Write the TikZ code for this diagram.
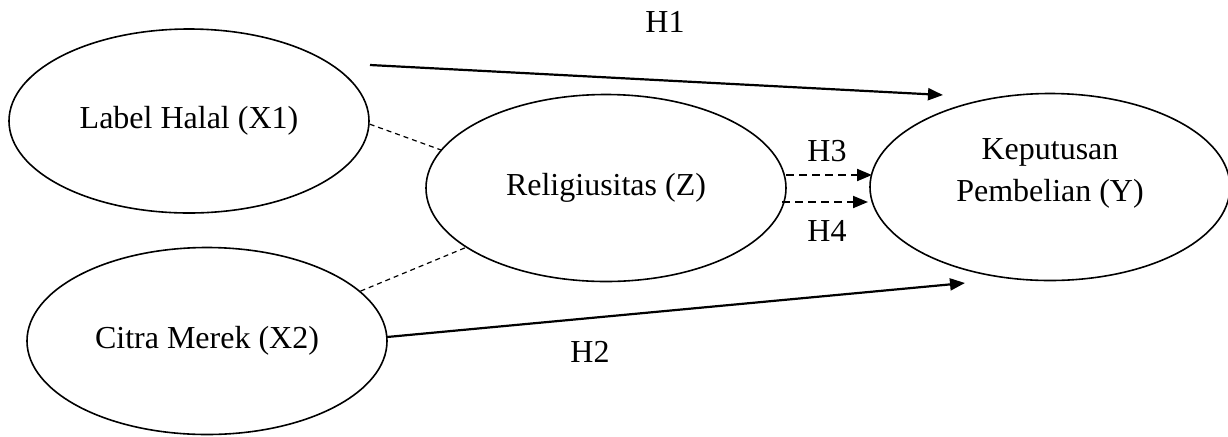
\documentclass[tikz,border=0pt]{standalone}
\usepackage{fontspec}
\setmainfont{Liberation Serif}
\usetikzlibrary{positioning, shapes.geometric, arrows.meta}

\begin{document}
\begin{tikzpicture}[x=0.5pt, y=-0.5pt, font=\fontsize{16}{21}\selectfont,
        var/.style={draw, ellipse, line width=0.8pt, minimum width=180pt, minimum height=93.5pt, inner sep=0pt, align=center},
        effect/.style={line width=1.1pt, -{Triangle[length=7.5pt, width=6pt]}},
        mediate/.style={line width=1pt, dash pattern=on 4pt off 2.5pt, -{Triangle[length=7.5pt, width=6pt]}},
        link/.style={line width=0.6pt, dash pattern=on 2.5pt off 2pt}]
        \useasboundingbox (0,0) rectangle (1228,436);

        \node[var, minimum height=92pt] (x1) at (189,121)  {Label Halal (X1)};
        \node[var]                      (z)  at (606,188)  {Religiusitas (Z)};
        \node[var, text depth=17pt]     (y)  at (1050,187) {Keputusan\\Pembelian (Y)};
        \node[var]                      (x2) at (207,341)  {Citra Merek (X2)};

        \coordinate (h1 tail) at (370,65);
        \coordinate (h1 head) at (943,95);
        \coordinate (h2 tail) at (387,337);
        \coordinate (h2 head) at (965,283);
        \coordinate (h3 tail) at (786,175);
        \coordinate (h3 head) at (872,175);
        \coordinate (h4 tail) at (782,202);
        \coordinate (h4 head) at (868,202);

        \node (h1) at (665,22)  {H1};
        \node (h2) at (590,352) {H2};
        \node (h3) at (827,151) {H3};
        \node (h4) at (827,231) {H4};

        \draw[effect]  (h1 tail) -- (h1 head);
        \draw[effect]  (h2 tail) -- (h2 head);
        \draw[mediate] (h3 tail) -- (h3 head);
        \draw[mediate] (h4 tail) -- (h4 head);
        \draw[link]    (x1.-1)  -- (z.167);
        \draw[link]    (x2.18)  -- (z.203);
    \end{tikzpicture}
\end{document}
